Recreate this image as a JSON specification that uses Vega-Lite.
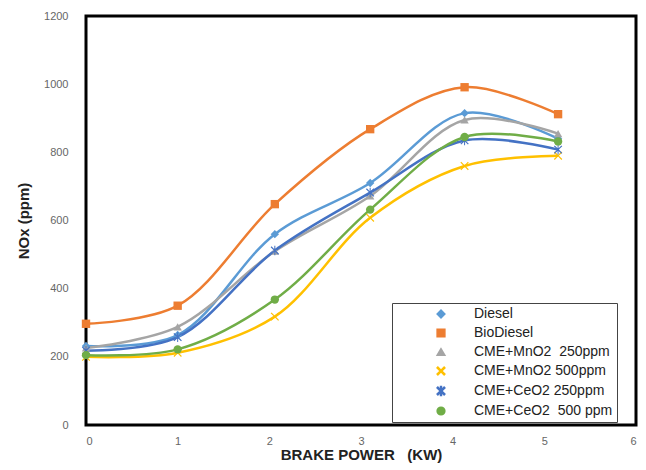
{
  "$schema": "https://vega.github.io/schema/vega-lite/v6.json",
  "width": 550,
  "height": 409,
  "autosize": "none",
  "padding": {"left": 86, "top": 16, "right": 10, "bottom": 45},
  "background": "white",
  "config": {
    "view": {"stroke": "black", "strokeWidth": 3},
    "font": "Liberation Sans"
  },
  "data": {
    "values": [
      {"bp": 0, "nox": 232, "s": "Diesel"},
      {"bp": 1, "nox": 264, "s": "Diesel"},
      {"bp": 2.06, "nox": 560, "s": "Diesel"},
      {"bp": 3.1, "nox": 710, "s": "Diesel"},
      {"bp": 4.13, "nox": 915, "s": "Diesel"},
      {"bp": 5.15, "nox": 840, "s": "Diesel"},
      {"bp": 0, "nox": 297, "s": "BioDiesel"},
      {"bp": 1, "nox": 350, "s": "BioDiesel"},
      {"bp": 2.06, "nox": 648, "s": "BioDiesel"},
      {"bp": 3.1, "nox": 868, "s": "BioDiesel"},
      {"bp": 4.13, "nox": 991, "s": "BioDiesel"},
      {"bp": 5.15, "nox": 912, "s": "BioDiesel"},
      {"bp": 0, "nox": 226, "s": "CME+MnO2\u00a0\u00a0250ppm"},
      {"bp": 1, "nox": 288, "s": "CME+MnO2\u00a0\u00a0250ppm"},
      {"bp": 2.06, "nox": 510, "s": "CME+MnO2\u00a0\u00a0250ppm"},
      {"bp": 3.1, "nox": 672, "s": "CME+MnO2\u00a0\u00a0250ppm"},
      {"bp": 4.13, "nox": 895, "s": "CME+MnO2\u00a0\u00a0250ppm"},
      {"bp": 5.15, "nox": 855, "s": "CME+MnO2\u00a0\u00a0250ppm"},
      {"bp": 0, "nox": 200, "s": "CME+MnO2 500ppm"},
      {"bp": 1, "nox": 212, "s": "CME+MnO2 500ppm"},
      {"bp": 2.06, "nox": 318, "s": "CME+MnO2 500ppm"},
      {"bp": 3.1, "nox": 608, "s": "CME+MnO2 500ppm"},
      {"bp": 4.13, "nox": 760, "s": "CME+MnO2 500ppm"},
      {"bp": 5.15, "nox": 790, "s": "CME+MnO2 500ppm"},
      {"bp": 0, "nox": 218, "s": "CME+CeO2 250ppm"},
      {"bp": 1, "nox": 258, "s": "CME+CeO2 250ppm"},
      {"bp": 2.06, "nox": 512, "s": "CME+CeO2 250ppm"},
      {"bp": 3.1, "nox": 682, "s": "CME+CeO2 250ppm"},
      {"bp": 4.13, "nox": 835, "s": "CME+CeO2 250ppm"},
      {"bp": 5.15, "nox": 808, "s": "CME+CeO2 250ppm"},
      {"bp": 0, "nox": 205, "s": "CME+CeO2\u00a0\u00a0500 ppm"},
      {"bp": 1, "nox": 222, "s": "CME+CeO2\u00a0\u00a0500 ppm"},
      {"bp": 2.06, "nox": 368, "s": "CME+CeO2\u00a0\u00a0500 ppm"},
      {"bp": 3.1, "nox": 632, "s": "CME+CeO2\u00a0\u00a0500 ppm"},
      {"bp": 4.13, "nox": 845, "s": "CME+CeO2\u00a0\u00a0500 ppm"},
      {"bp": 5.15, "nox": 832, "s": "CME+CeO2\u00a0\u00a0500 ppm"}
    ]
  },
  "encoding": {
    "x": {
      "field": "bp", "type": "quantitative",
      "scale": {"domain": [0, 6], "nice": false},
      "axis": {
        "title": "BRAKE POWER\u00a0\u00a0\u00a0(KW)", "values": [0, 1, 2, 3, 4, 5, 6], "grid": false,
        "ticks": false, "domain": false, "labelPadding": 10, "labelColor": "#666666",
        "labelFontSize": 11, "titleFontSize": 15, "titleFontWeight": "bold", "titlePadding": 1,
        "titleColor": "#222222", "format": "d"
      }
    },
    "y": {
      "field": "nox", "type": "quantitative",
      "scale": {"domain": [0, 1200], "nice": false},
      "axis": {
        "title": "NOx (ppm)", "values": [0, 200, 400, 600, 800, 1000, 1200], "grid": false,
        "ticks": false, "domain": false, "labelPadding": 18, "labelColor": "#666666",
        "labelFontSize": 11, "titleFontSize": 15, "titleFontWeight": "bold", "titlePadding": 12,
        "titleColor": "#222222", "format": "d"
      }
    },
    "color": {
      "field": "s", "type": "nominal",
      "scale": {
        "domain": ["Diesel", "BioDiesel", "CME+MnO2\u00a0\u00a0250ppm", "CME+MnO2 500ppm", "CME+CeO2 250ppm", "CME+CeO2\u00a0\u00a0500 ppm"],
        "range": ["#5B9BD5", "#ED7D31", "#A5A5A5", "#FFC000", "#4472C4", "#70AD47"]
      },
      "legend": {
        "title": null, "orient": "none", "legendX": 306, "legendY": 287,
        "strokeColor": "#444444", "padding": 4, "fillColor": "white",
        "labelFontSize": 14, "labelColor": "#222222", "rowPadding": 5,
        "symbolSize": 60, "labelLimit": 240, "symbolOffset": 38, "labelOffset": 26
      }
    }
  },
  "layer": [
    {
      "mark": {"type": "line", "interpolate": "catmull-rom", "strokeWidth": 2.5}
    },
    {
      "mark": {"type": "point", "filled": true, "size": 70, "opacity": 1},
      "encoding": {
        "shape": {
          "field": "s", "type": "nominal",
          "scale": {
            "domain": ["Diesel", "BioDiesel", "CME+MnO2\u00a0\u00a0250ppm", "CME+MnO2 500ppm", "CME+CeO2 250ppm", "CME+CeO2\u00a0\u00a0500 ppm"],
            "range": ["diamond", "square", "triangle-up",
              "M-1,-0.8L-0.8,-1L0,-0.2L0.8,-1L1,-0.8L0.2,0L1,0.8L0.8,1L0,0.2L-0.8,1L-1,0.8L-0.2,0Z",
              "M-1,-0.8L-0.8,-1L0,-0.2L0.8,-1L1,-0.8L0.2,0L1,0.8L0.8,1L0,0.2L-0.8,1L-1,0.8L-0.2,0ZM-0.12,-1.15L0.12,-1.15L0.12,1.15L-0.12,1.15Z",
              "circle"]
          },
          "legend": null
        }
      }
    }
  ]
}
